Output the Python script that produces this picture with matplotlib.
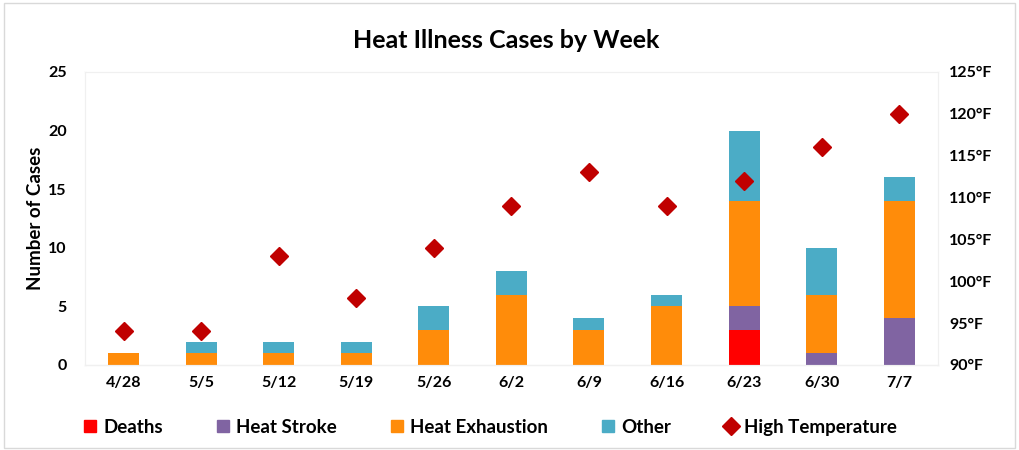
import matplotlib.pyplot as plt
import numpy as np
from matplotlib.patches import Rectangle
from matplotlib.lines import Line2D

plt.rcParams['font.family'] = ['Lato', 'DejaVu Sans']
plt.rcParams['font.weight'] = 'bold'

# weekly case counts
weeks = ['4/28', '5/5', '5/12', '5/19', '5/26', '6/2', '6/9', '6/16', '6/23', '6/30', '7/7']
deaths = [0, 0, 0, 0, 0, 0, 0, 0, 3, 0, 0]
heat_stroke = [0, 0, 0, 0, 0, 0, 0, 0, 2, 1, 4]
heat_exhaustion = [1, 1, 1, 1, 3, 6, 3, 5, 9, 5, 10]
other = [0, 1, 1, 1, 2, 2, 1, 1, 6, 4, 2]
high_temp = [94, 94, 103, 98, 104, 109, 113, 109, 112, 116, 120]

c_deaths = '#ff0000'
c_stroke = '#8064a2'
c_exh = '#ff8c0a'
c_other = '#4bacc6'
c_temp = '#c00000'

fig = plt.figure(figsize=(10.19, 4.5), dpi=100)
fig.patches.append(Rectangle((0.004, 0.004), 0.992, 0.99, transform=fig.transFigure,
                             fill=False, edgecolor='#d9d9d9', linewidth=1))
ax = fig.add_axes([0.0834, 0.189, 0.837, 0.651])
ax2 = ax.twinx()

x = np.arange(len(weeks))
w = 0.4
b = np.zeros(len(weeks))
for vals, col in [(deaths, c_deaths), (heat_stroke, c_stroke), (heat_exhaustion, c_exh), (other, c_other)]:
    ax.bar(x, vals, w, bottom=b, color=col, zorder=2)
    b = b + np.array(vals)

ax2.plot(x, high_temp, linestyle='none', marker='D', markersize=9, color=c_temp, zorder=3)

ax.set_xlim(-0.5, len(weeks) - 0.5)
ax.set_ylim(0, 25)
ax.set_yticks(range(0, 26, 5))
ax2.set_ylim(90, 125)
ax2.set_yticks(range(90, 126, 5))
ax2.set_yticklabels([f'{t}°F' for t in range(90, 126, 5)])
ax.set_xticks(x)
ax.set_xticklabels(weeks)

for a in (ax, ax2):
    for s in a.spines.values():
        s.set_color('#f0f0f0')
    a.tick_params(length=0, labelsize=11.5, colors='black')
ax.spines['bottom'].set_color('#d9d9d9')
ax.tick_params(axis='x', pad=8)
ax.tick_params(axis='y', pad=13)
ax2.tick_params(axis='y', pad=8)
for lab in ax.get_xticklabels() + ax.get_yticklabels() + ax2.get_yticklabels():
    lab.set_fontweight('bold')

ax.set_ylabel('Number of Cases', fontsize=13.5, fontweight='bold', labelpad=3)
fig.text(0.497, 0.91, 'Heat Illness Cases by Week', ha='center', va='center',
         fontsize=18, fontweight='bold')

handles = [
    Line2D([], [], linestyle='none', marker='s', markersize=9, color=c_deaths),
    Line2D([], [], linestyle='none', marker='s', markersize=9, color=c_stroke),
    Line2D([], [], linestyle='none', marker='s', markersize=9, color=c_exh),
    Line2D([], [], linestyle='none', marker='s', markersize=9, color=c_other),
    Line2D([], [], linestyle='none', marker='D', markersize=9, color=c_temp),
]
names = ['Deaths', 'Heat Stroke', 'Heat Exhaustion', 'Other', 'High Temperature']
fig.legend(handles, names, loc='center', bbox_to_anchor=(0.48, 0.05), ncol=5,
           frameon=False, handletextpad=0.2, columnspacing=2.7,
           handlelength=1.0, prop={'weight': 'bold', 'size': 13.5})

fig.savefig('out.png', dpi=100)
